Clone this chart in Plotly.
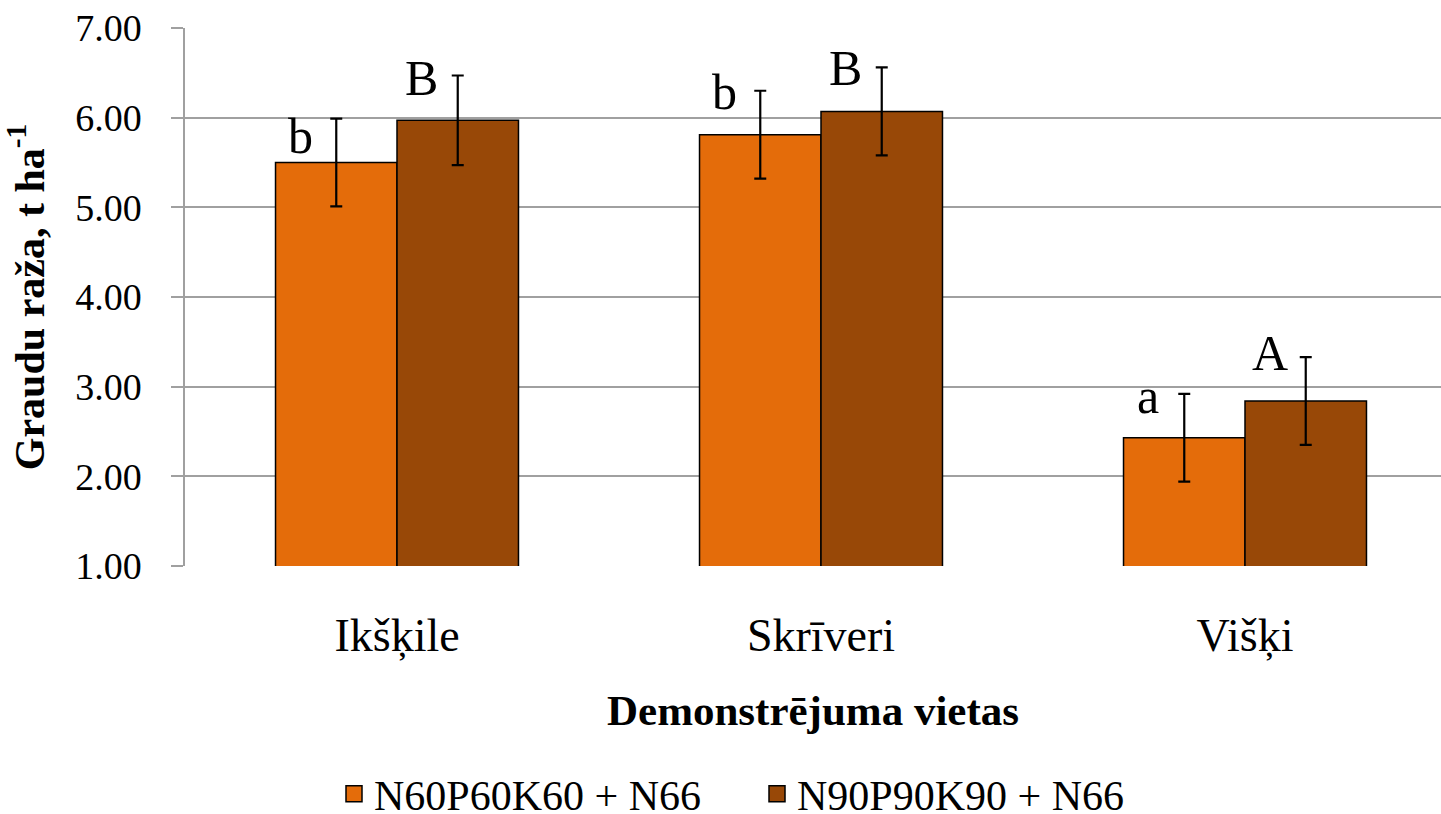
import plotly.graph_objects as go

categories = ["Ikšķile", "Skrīveri", "Višķi"]
series_names = ["N60P60K60 + N66", "N90P90K90 + N66"]
values_low = [5.50, 5.81, 2.43]
values_high = [5.97, 6.07, 2.84]
err_low = [0.49, 0.49, 0.49]
err_high = [0.50, 0.49, 0.49]
letters_low = ["b", "b", "a"]
letters_high = ["B", "B", "A"]
y_ticks = [1, 2, 3, 4, 5, 6, 7]

colors = ["#E46C0A", "#984807"]
FONT = "Liberation Serif, Times New Roman, serif"

fig = go.Figure()
for name, vals, errs, col in [(series_names[0], values_low, err_low, colors[0]),
                              (series_names[1], values_high, err_high, colors[1])]:
    fig.add_trace(go.Bar(
        name=name, x=categories, y=vals, base=0, showlegend=False,
        marker=dict(color=col, line=dict(color="black", width=1.5)),
        error_y=dict(type="data", array=errs, visible=True, color="black", thickness=2.2, width=6),
    ))
# legend entries with larger square swatches
for name, col in zip(series_names, colors):
    fig.add_trace(go.Scatter(
        name=name, x=[None], y=[None], mode="markers",
        marker=dict(symbol="square", size=21, color=col, line=dict(color="black", width=1.5)),
    ))

# letter labels (per-label pixel nudges are styling)
label_dx = [-36, -36]  # px left of each bar centre
label_dy = [[-36, -20, -21], [-21, -20, -15]]  # baseline below error-bar top, px
bar_off = [-0.1433, 0.1433]
for s, (letters, vals, errs) in enumerate([(letters_low, values_low, err_low),
                                           (letters_high, values_high, err_high)]):
    for i, cat in enumerate(categories):
        fig.add_annotation(
            x=i + bar_off[s], y=vals[i] + errs[i], xref="x", yref="y",
            text=letters[i], showarrow=False,
            xanchor="center", yanchor="bottom",
            xshift=label_dx[s], yshift=label_dy[s][i] - 11,
            font=dict(family=FONT, size=50, color="black"),
        )

fig.update_layout(
    width=1441, height=814,
    margin=dict(l=185, r=0, t=28, b=248, autoexpand=False),
    paper_bgcolor="white", plot_bgcolor="white",
    barmode="group", bargap=0.427, bargroupgap=0,
    font=dict(family=FONT, color="black"),
    showlegend=True,
    legend=dict(orientation="h", xref="container", yref="container",
                x=334 / 1441, xanchor="left", y=1 - 794 / 814, yanchor="middle",
                font=dict(family=FONT, size=42, color="black"),
                itemwidth=30, entrywidth=378, traceorder="normal", tracegroupgap=0),
)
fig.update_xaxes(
    type="category", range=[-0.5, -0.5 + (1441 - 185) / 424],
    showgrid=False, showline=False, ticks="", ticklabelstandoff=38,
    tickfont=dict(family=FONT, size=46, color="black"),
    title=dict(text="<b>Demonstrējuma vietas</b>", standoff=34,
               font=dict(family=FONT, size=43, color="black")),
)
fig.update_yaxes(
    range=[1, 7], tickvals=y_ticks, tickformat=".2f",
    showgrid=True, gridcolor="#A0A0A0", gridwidth=1.5,
    showline=True, linecolor="#A0A0A0", linewidth=1.5,
    ticks="outside", ticklen=12, tickcolor="#A0A0A0", tickwidth=1.5,
    ticklabelstandoff=22, zeroline=False,
    tickfont=dict(family=FONT, size=38, color="black"),
    title=dict(text="<b>Graudu raža, t ha<sup>-1</sup></b>", standoff=33,
               font=dict(family=FONT, size=42, color="black")),
)

fig.write_html("out.html", config={"displayModeBar": False},
               post_script="document.body.style.margin='0';")
